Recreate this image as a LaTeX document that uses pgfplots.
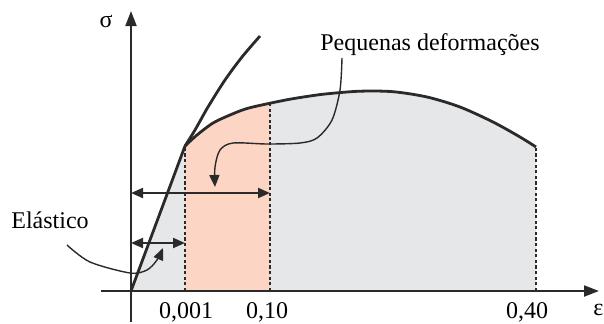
\documentclass[border=0pt]{standalone}
\usepackage{fontspec}
\setmainfont{Liberation Serif}
\usepackage{pgfplots}
\pgfplotsset{compat=1.18}
\usetikzlibrary{arrows.meta}
\definecolor{grayfill}{HTML}{E6E7E9}
\definecolor{pinkfill}{HTML}{FCD5C4}
\definecolor{ink}{HTML}{2A2A2A}
\begin{document}
\begin{tikzpicture}[font=\fontsize{12}{14}\selectfont]
\begin{axis}[width=302pt,height=161pt,scale only axis,
  xmin=0,xmax=604,ymin=-31,ymax=291,hide axis,clip=false]
% bounding box
\addplot[draw=none] coordinates {(0,-31)(604,291)};
% elastic part fill (triangle)
\addplot[fill=grayfill,draw=none] coordinates {(131,0)(185.5,145)(185.5,0)};
% plastic fills
\addplot[fill=grayfill,draw=none,smooth] coordinates {
 (185,145)(197,156)(213,168)(230,176)(247,182.5)(271,188)(290,191.8)(310,195)
 (327,197.2)(360,199.8)(393,199.3)(427,194)(460,184)(493,169)(520,154)(536,144)} \closedcycle;
\addplot[fill=pinkfill,draw=none,smooth] coordinates {
 (185,145)(197,156)(213,168)(230,176)(247,182.5)(270,187.8)} \closedcycle;
% dashed verticals
\addplot[ink,line width=1pt,dash pattern=on 1.6pt off 1.2pt] coordinates {(185,0)(185,145)};
\addplot[ink,line width=1pt,dash pattern=on 1.6pt off 1.2pt] coordinates {(270,0)(270,188)};
\addplot[ink,line width=1pt,dash pattern=on 1.6pt off 1.2pt] coordinates {(536,0)(536,144)};
% axes
\addplot[ink,line width=1pt,-{Triangle[length=7.5pt,width=5.5pt]}] coordinates {(101,0)(599,0)};
\addplot[ink,line width=1pt,-{Triangle[length=7.5pt,width=5.5pt]}] coordinates {(131,-31)(131,280)};
% curves
\addplot[ink,line width=1.4pt] coordinates {(131,0)(185,145)};
\addplot[ink,line width=1.4pt,smooth] coordinates {(185,145)(195,161)(208,184)(225,211)(242,234)(260,255)};
\addplot[ink,line width=1.4pt,smooth] coordinates {
 (185,145)(197,156)(213,168)(230,176)(247,182.5)(271,188)(290,191.8)(310,195)
 (327,197.2)(360,199.8)(393,199.3)(427,194)(460,184)(493,169)(520,154)(536,144)};
% double arrows
\addplot[ink,line width=1pt,{Triangle[length=6pt,width=5pt]}-{Triangle[length=6pt,width=5pt]}] coordinates {(131,98)(270,98)};
\addplot[ink,line width=1pt,{Triangle[length=6pt,width=5pt]}-{Triangle[length=6pt,width=5pt]}] coordinates {(131,48)(185,48)};
% annotation curves
\addplot[ink,line width=0.7pt,smooth,-{Triangle[length=6pt,width=5pt]}] coordinates {
 (342,233)(340,201)(332,171)(317,153)(300,148)(267,147)(233,148)(220,141)(215,124)(215,104)};
\addplot[ink,line width=0.7pt,smooth,-{Triangle[length=6pt,width=5pt]}] coordinates {
 (67,46)(90,29)(130,18)(147,21)(157,31)(163,43)};
% texts
\node[anchor=base,inner sep=0pt] at (axis cs:106,264) {σ};
\node[anchor=base west,inner sep=0pt] at (axis cs:593,-24) {ε};
\node[anchor=base,inner sep=0pt] at (axis cs:186,-27) {0,001};
\node[anchor=base,inner sep=0pt] at (axis cs:267,-27) {0,10};
\node[anchor=base,inner sep=0pt] at (axis cs:527,-27) {0,40};
\node[anchor=base,inner sep=0pt] at (axis cs:50,63) {Elástico};
\node[anchor=base,inner sep=0pt] at (axis cs:430,241) {Pequenas deformações};
\end{axis}
\end{tikzpicture}
\end{document}
